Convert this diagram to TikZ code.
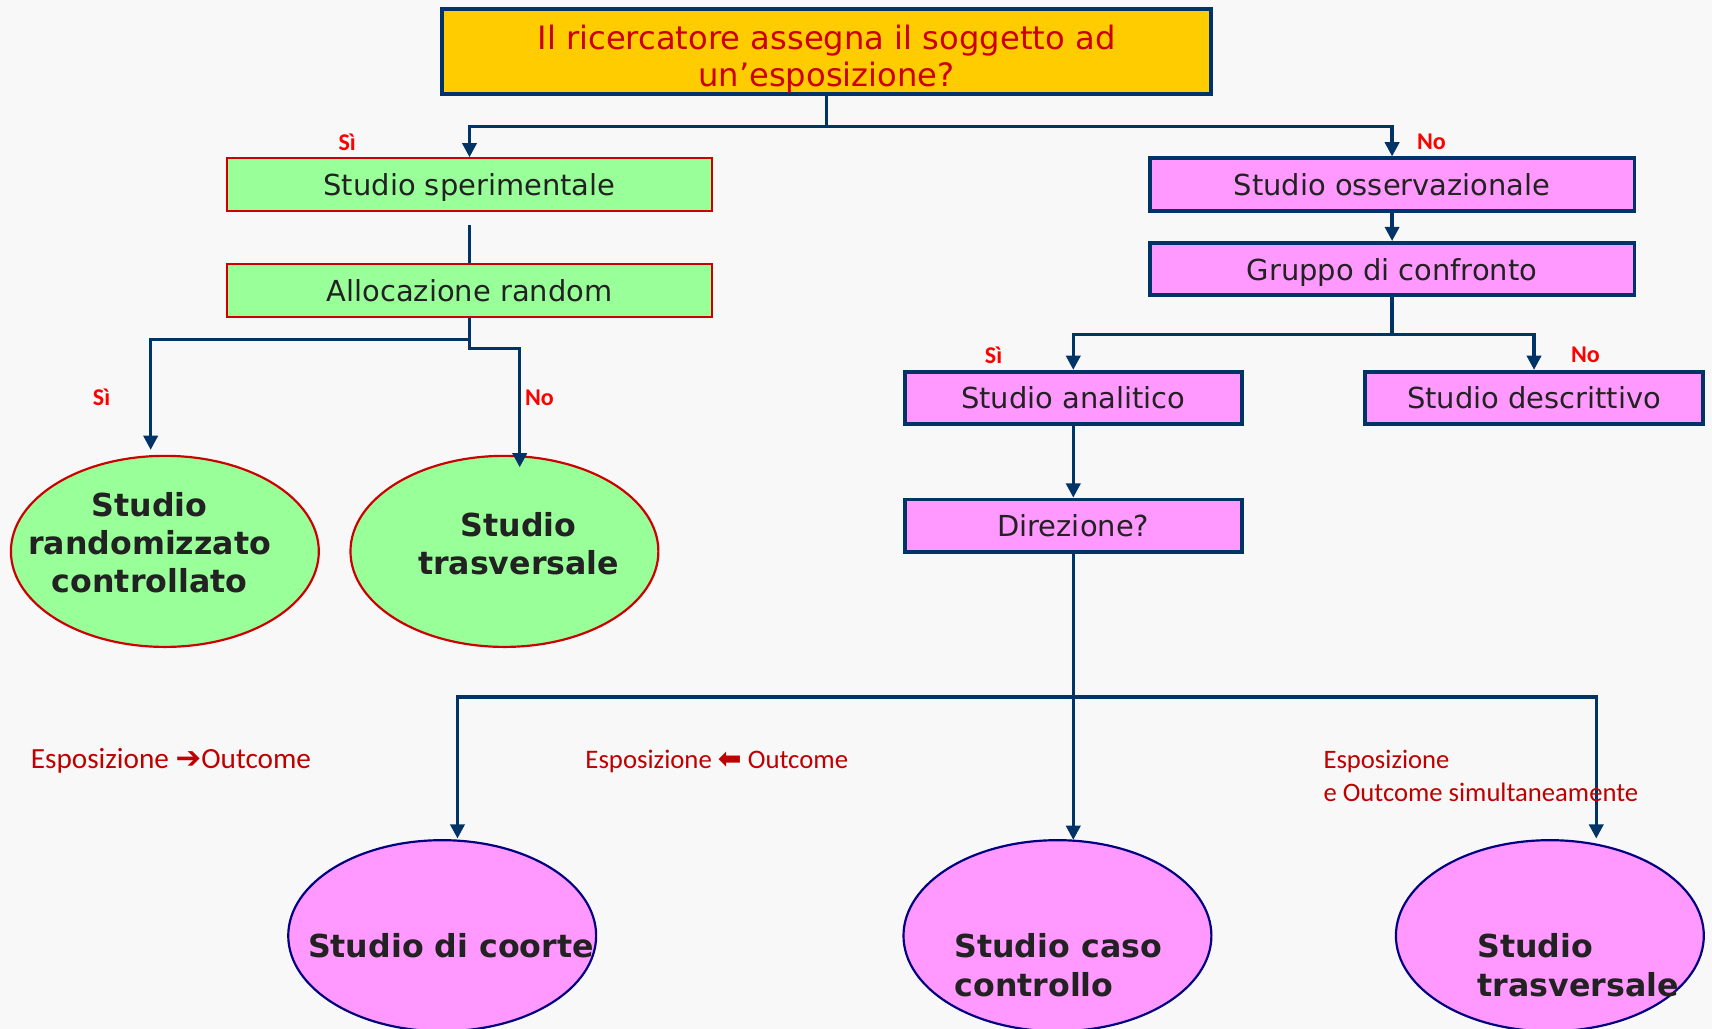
\documentclass[tikz,border=0pt]{standalone}
\usepackage{fontspec}
\setmainfont{DejaVu Sans}
\newfontfamily\calfont{Carlito}
\newfontfamily\dvfont{DejaVu Sans}
\usetikzlibrary{arrows.meta,shapes.geometric}
\definecolor{bgc}{HTML}{F8F8F8}
\definecolor{navy}{HTML}{003366}
\definecolor{deepnavy}{HTML}{000080}
\definecolor{gred}{HTML}{CC0000}
\definecolor{lgreen}{HTML}{99FF99}
\definecolor{lpink}{HTML}{FF99FF}
\definecolor{gold}{HTML}{FFCC00}
\definecolor{txt}{HTML}{222222}
\definecolor{lblred}{HTML}{FF0000}
\definecolor{dred}{HTML}{C00000}
\tikzset{
  boxfont/.style={font=\fontsize{26.5}{34}\selectfont},
  boxbase/.style={minimum height=48pt, text=txt, boxfont, inner sep=0pt, text height=21pt, text depth=1pt},
  greenbox/.style={boxbase, draw=gred, line width=2pt, fill=lgreen},
  pinkbox/.style={boxbase, draw=navy, line width=3.5pt, fill=lpink},
  gell/.style={ellipse, draw=gred, line width=2pt, fill=lgreen, minimum width=282pt, minimum height=175pt, inner sep=0pt},
  pell/.style={ellipse, draw=deepnavy, line width=2pt, fill=lpink, minimum width=282pt, minimum height=175pt, inner sep=0pt},
  elltext/.style={font=\bfseries\fontsize{29}{35}\selectfont, text=txt, inner sep=0pt},
  conn/.style={draw=navy, line width=3pt},
  arr/.style={conn, -{Triangle[length=13pt,width=13pt]}},
  yn/.style={font=\calfont\bfseries\fontsize{22}{24}\selectfont, text=lblred, inner sep=0pt},
  esp/.style={text=dred, inner sep=0pt, align=left},
}
\begin{document}
\begin{tikzpicture}[x=1pt,y=-1pt]
\fill[bgc] (0,0) rectangle (1568,942);
\useasboundingbox (0,0) rectangle (1568,942);
\clip (0,0) rectangle (1568,942);

% top question
\node[draw=navy, line width=3.5pt, fill=gold, minimum width=704pt, minimum height=78pt, inner sep=0pt] (q) at (757,47) {};
\node[text=gred, font=\fontsize{29.5}{34}\selectfont, align=center, inner sep=0pt] (qtext) at (757,54)
  {Il ricercatore assegna il soggetto ad\\un’esposizione?};

% left branch
\node[greenbox, minimum width=444pt] (sper) at (430,169) {Studio sperimentale};
\node[greenbox, minimum width=444pt] (alloc) at (430,266) {Allocazione random};
\node[gell] (rct) at (151,505) {};
\node[elltext, align=center] (rcttext) at (137,497) {Studio\\randomizzato\\controllato};
\node[gell] (tr1) at (462,505) {};
\node[elltext, align=center] (tr1text) at (475,498) {Studio\\trasversale};

% right branch
\node[pinkbox, minimum width=444pt] (oss) at (1275,169) {Studio osservazionale};
\node[pinkbox, minimum width=444pt] (grp) at (1275,246.5) {Gruppo di confronto};
\node[pinkbox, minimum width=309pt] (anal) at (983,364.5) {Studio analitico};
\node[pinkbox, minimum width=310pt] (desc) at (1405,364.5) {Studio descrittivo};
\node[pinkbox, minimum width=309pt] (dir) at (983,481.5) {Direzione?};

% bottom ellipses
\node[pell] (coorte) at (405,857) {};
\node[elltext] (coortetext) at (413,866) {Studio di coorte};
\node[pell] (caso) at (968.5,857) {};
\node[elltext, align=left, anchor=west] (casotext) at (874,884) {Studio caso\\controllo};
\node[pell] (tr2) at (1419.5,857) {};
\node[elltext, align=left, anchor=west] (tr2text) at (1353,884) {Studio\\trasversale};

% connectors
\draw[conn] (q.south) -- ++(0,28) coordinate (j1);
\draw[arr] (j1) -| (sper.north);
\draw[arr] (j1) -| (oss.north);

\path (sper.south) ++(0,12) coordinate (s1);
\draw[conn] (s1) -- (alloc.north);

\coordinate (rctin) at (138,412);
\coordinate (tr1in) at (476,428);
\draw[conn] (alloc.south) -- ++(0,20) coordinate (j4);
\draw[arr] (j4) -| (rctin);
\draw[arr] (j4) -- ++(0,8) -| (tr1in);

\draw[arr] (oss.south) -- (grp.north);
\draw[conn] (grp.south) -- ++(0,34) coordinate (j2);
\draw[arr] (j2) -| (anal.north);
\draw[arr] (j2) -| (desc.north);
\draw[arr] (anal.south) -- (dir.north);

\coordinate (coortein) at (419,768);
\coordinate (tr2in) at (1462,768);
\draw[conn] (dir.south) -- ++(0,131) coordinate (j3);
\draw[arr] (j3) -| (coortein);
\draw[arr] (j3) -- ++(0,131) coordinate (casoin);
\draw[arr] (j3) -| (tr2in);

% yes/no labels
\node[yn] (y1) at (318,130) {Sì};
\node[yn] (n1) at (1311,130) {No};
\node[yn] (y2) at (93,364) {Sì};
\node[yn] (n2) at (494,364) {No};
\node[yn] (y3) at (910,325) {Sì};
\node[yn] (n3) at (1452,325) {No};

% direction labels
\node[esp, anchor=west, font=\calfont\fontsize{26.8}{30}\selectfont] (e1) at (28,697) {Esposizione {\dvfont\bfseries\fontsize{28}{30}\selectfont ➔}Outcome};
\node[esp, anchor=west, font=\calfont\fontsize{24.5}{30}\selectfont] (e2) at (536,697) {Esposizione {\dvfont\bfseries\fontsize{26}{30}\selectfont ⬅} Outcome};
\node[esp, anchor=north west, font=\calfont\fontsize{24.4}{30}\selectfont] (e3) at (1212,687) {Esposizione\\e Outcome simultaneamente};
\end{tikzpicture}
\end{document}
